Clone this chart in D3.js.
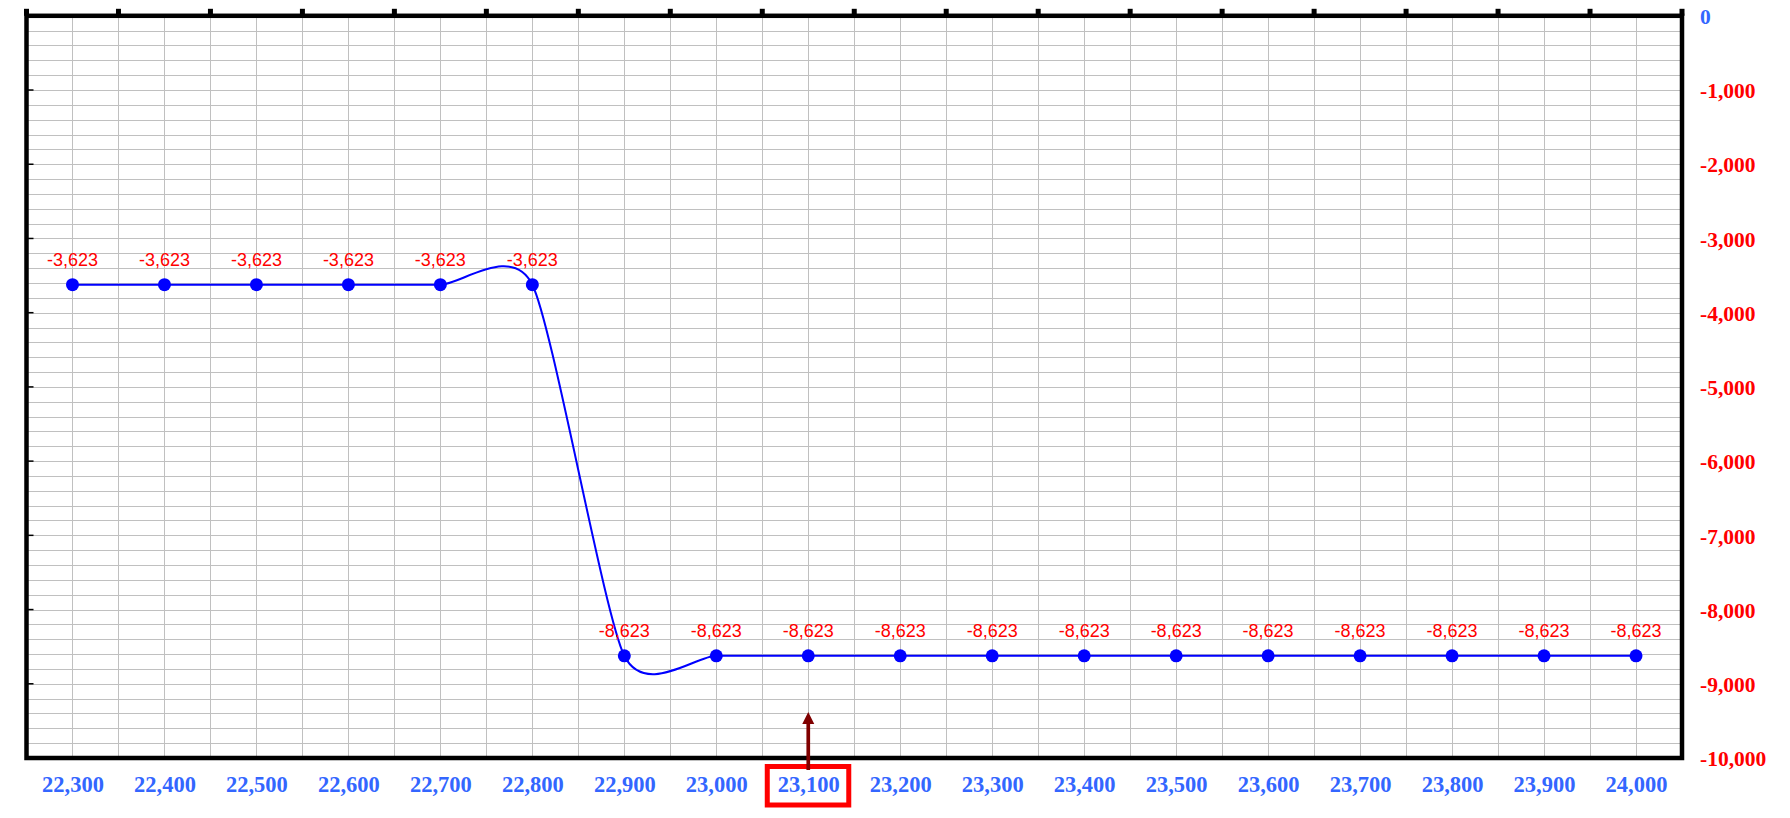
<!DOCTYPE html>
<html>
<head>
<meta charset="utf-8">
<script src="https://cdn.jsdelivr.net/npm/d3@7"></script>
<style>
  html, body { margin: 0; padding: 0; background: #ffffff; }
  svg { display: block; }
</style>
</head>
<body>
<svg id="chart" width="1790" height="818"></svg>
<script>
// ---------- data ----------
const categories = [22300, 22400, 22500, 22600, 22700, 22800, 22900, 23000, 23100,
                    23200, 23300, 23400, 23500, 23600, 23700, 23800, 23900, 24000];
const values = [-3623, -3623, -3623, -3623, -3623, -3623,
                -8623, -8623, -8623, -8623, -8623, -8623,
                -8623, -8623, -8623, -8623, -8623, -8623];
const xTickLabels = categories;
const yTickLabels = [0, -1000, -2000, -3000, -4000, -5000, -6000, -7000, -8000, -9000, -10000];
const highlightCategory = 23100;
const arrowTipValue = -9380;

(function () {
// ---------- layout ----------
const pL = 26.5, pR = 1682, pT = 15.8, pB = 758;

const svg = d3.select("#chart");
const x = d3.scaleLinear().domain([22250, 24050]).range([pL, pR]);
const y = d3.scaleLinear().domain([-10000, 0]).range([pB, pT]);
const locale = d3.formatLocale({ decimal: ".", thousands: ",", grouping: [3], currency: ["", ""], minus: "-" });
const fmt = locale.format(",");

const blueText = "#3366ff";
const redText = "#ff0000";
const serif = "'Liberation Serif', 'Times New Roman', serif";
const sans = "'Liberation Sans', Arial, sans-serif";

// ---------- grid ----------
const grid = svg.append("g").attr("class", "grid")
  .attr("stroke", "#c0c0c0").attr("stroke-width", 1).attr("shape-rendering", "crispEdges");
grid.selectAll("line.v").data(d3.range(22300, 24050, 50)).join("line")
  .attr("class", "v")
  .attr("x1", d => Math.round(x(d)) + 0.5).attr("x2", d => Math.round(x(d)) + 0.5)
  .attr("y1", pT).attr("y2", pB);
grid.selectAll("line.h").data(d3.range(-9800, 0, 200)).join("line")
  .attr("class", "h")
  .attr("y1", d => Math.round(y(d)) + 0.5).attr("y2", d => Math.round(y(d)) + 0.5)
  .attr("x1", pL).attr("x2", pR);

// ---------- left inner ticks ----------
svg.append("g").selectAll("line").data(yTickLabels.slice(1, -1)).join("line")
  .attr("x1", pL).attr("x2", pL + 7)
  .attr("y1", d => y(d)).attr("y2", d => y(d))
  .attr("stroke", "#000").attr("stroke-width", 1.5);

// ---------- top tick marks ----------
svg.append("g").selectAll("rect").data(d3.range(22250, 24051, 100)).join("rect")
  .attr("x", d => x(d) - 2.5).attr("y", pT - 7)
  .attr("width", 5).attr("height", 7).attr("fill", "#000");

// ---------- frame ----------
svg.append("rect")
  .attr("x", pL).attr("y", pT)
  .attr("width", pR - pL).attr("height", pB - pT)
  .attr("fill", "none").attr("stroke", "#000").attr("stroke-width", 4.5);

// ---------- x axis labels ----------
const xAxis = d3.axisBottom(x).tickValues(xTickLabels).tickSize(0).tickPadding(0)
  .tickFormat(d => fmt(d));
const gx = svg.append("g").attr("transform", `translate(0,${pB})`).call(xAxis);
gx.select(".domain").remove();
gx.selectAll("text")
  .attr("y", 34).attr("dy", null)
  .attr("font-family", serif).attr("font-weight", "bold").attr("font-size", 22.5)
  .attr("fill", blueText);

// ---------- right axis labels ----------
const yAxis = d3.axisRight(y).tickValues(yTickLabels).tickSize(0).tickPadding(0)
  .tickFormat(d => fmt(d));
const gy = svg.append("g").attr("transform", `translate(${pR + 18},0)`).call(yAxis);
gy.select(".domain").remove();
gy.selectAll("text")
  .attr("x", 0).attr("dy", "0.36em")
  .attr("text-anchor", "start")
  .attr("font-family", serif).attr("font-weight", "bold").attr("font-size", 21.5)
  .attr("fill", d => d === 0 ? blueText : redText);

// ---------- series line ----------
const pts = categories.map((c, i) => ({ c, v: values[i] }));
const line = d3.line()
  .x(d => x(d.c)).y(d => y(d.v))
  .curve(d3.curveCardinal.tension(0.33));
svg.append("path").datum(pts)
  .attr("d", line)
  .attr("fill", "none").attr("stroke", "#0000ff").attr("stroke-width", 2);

// ---------- points ----------
svg.append("g").selectAll("circle").data(pts).join("circle")
  .attr("cx", d => x(d.c)).attr("cy", d => y(d.v)).attr("r", 6.5)
  .attr("fill", "#0000ff");

// ---------- data labels ----------
svg.append("g").selectAll("text").data(pts).join("text")
  .attr("x", d => x(d.c)).attr("y", d => y(d.v) - 19)
  .attr("text-anchor", "middle")
  .attr("font-family", sans).attr("font-size", 18)
  .attr("fill", redText)
  .text(d => fmt(d.v));

// ---------- highlight box + arrow ----------
const hx = x(highlightCategory);
svg.append("rect")
  .attr("x", hx - 41).attr("y", pB + 8.5)
  .attr("width", 81.5).attr("height", 38.5)
  .attr("fill", "none").attr("stroke", "#ff0000").attr("stroke-width", 5);

const tipY = y(arrowTipValue);
svg.append("line")
  .attr("x1", hx).attr("x2", hx)
  .attr("y1", pB + 12).attr("y2", tipY + 10)
  .attr("stroke", "#800000").attr("stroke-width", 3.7);
svg.append("path")
  .attr("d", `M${hx},${tipY} L${hx - 6},${tipY + 12} L${hx + 6},${tipY + 12} Z`)
  .attr("fill", "#800000");
})();
</script>
</body>
</html>
